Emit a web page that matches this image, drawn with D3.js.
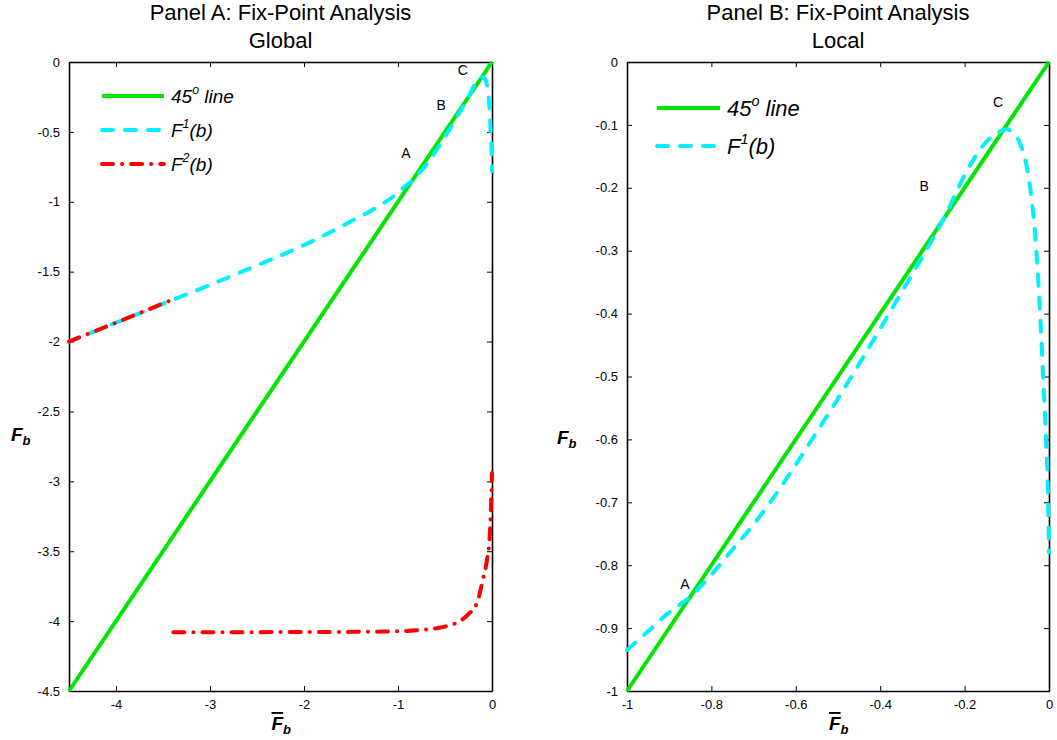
<!DOCTYPE html>
<html>
<head>
<meta charset="utf-8">
<script src="https://cdn.jsdelivr.net/npm/d3@7"></script>
<style>
  body { margin: 0; background: #fff; }
  text { font-family: "Liberation Sans", Arial, sans-serif; fill: #000; }
</style>
</head>
<body>
<svg id="chart" width="1057" height="740"></svg>
<script>
// ---- data ----
// F1(b) for b < -1 (only visible in panel A)
const f1GlobalX = [-4.5, -4.0, -3.5, -3.0, -2.5, -2.0, -1.5, -1.25];
const f1GlobalY = [-2.0, -1.865, -1.73, -1.595, -1.455, -1.31, -1.14, -1.05];
// F1(b) for -1 <= b <= 0 (both panels)
const f1LocalX = [-1, -0.95, -0.9, -0.85, -0.8, -0.75, -0.7, -0.65, -0.6, -0.55, -0.5, -0.45, -0.4,
  -0.35, -0.3, -0.25, -0.2, -0.15, -0.12, -0.1, -0.088, -0.069, -0.053, -0.041, -0.033, -0.029,
  -0.021, -0.014, -0.007, -0.002, 0];
const f1LocalY = [-0.935, -0.905, -0.875, -0.85, -0.815, -0.775, -0.735, -0.69, -0.64, -0.588,
  -0.535, -0.48, -0.424, -0.367, -0.31, -0.25, -0.18, -0.128, -0.112, -0.107, -0.111, -0.129,
  -0.166, -0.219, -0.272, -0.31, -0.4, -0.5, -0.6, -0.7, -0.78];
// F2(b), two pieces
const f2UpperX = [-4.5, -4.0, -3.4];
const f2UpperY = [-2.0, -1.865, -1.70];
const f2LowerX = [-3.39, -3.0, -2.5, -2.0, -1.5, -1.16, -0.8, -0.585, -0.45, -0.34, -0.25, -0.16,
  -0.096, -0.053, -0.025, -0.012, -0.004, 0];
const f2LowerY = [-4.08, -4.08, -4.079, -4.078, -4.077, -4.075, -4.065, -4.05, -4.03, -4.0, -3.95,
  -3.87, -3.7, -3.56, -3.4, -3.2, -3.05, -2.94];

// axes
const ticksAX = [-4, -3, -2, -1, 0];
const ticksAY = [0, -0.5, -1, -1.5, -2, -2.5, -3, -3.5, -4, -4.5];
const ticksBX = [-1, -0.8, -0.6, -0.4, -0.2, 0];
const ticksBY = [0, -0.1, -0.2, -0.3, -0.4, -0.5, -0.6, -0.7, -0.8, -0.9, -1];

// point labels
const pointNames = ['A', 'B', 'C'];
const pointsAX = [-0.915, -0.54, -0.31];
const pointsAY = [-0.69, -0.34, -0.09];
const pointsBX = [-0.863, -0.296, -0.121];
const pointsBY = [-0.838, -0.205, -0.072];

const zip = (xs, ys) => xs.map((v, i) => [v, ys[i]]);

const svg = d3.select('#chart');
const fmt = (d) => String(d);

function drawPanel(cfg) {
  const { left, right, top, bottom } = cfg;
  const x = d3.scaleLinear().domain(cfg.xDomain).range([left, right]);
  const y = d3.scaleLinear().domain(cfg.yDomain).range([bottom, top]);
  const g = svg.append('g');

  // axes (box, ticks pointing in)
  const styleAxis = (sel) => {
    sel.select('.domain').attr('stroke', '#000').attr('stroke-width', 1.6);
    sel.selectAll('.tick line').attr('stroke', '#000').attr('stroke-width', 1);
    sel.selectAll('.tick text').attr('font-size', 13).attr('font-family', '"Liberation Sans", Arial, sans-serif');
  };
  g.append('g').attr('transform', `translate(0,${bottom})`)
    .call(d3.axisBottom(x).tickValues(cfg.xTicks).tickFormat(fmt).tickSizeInner(-5).tickSizeOuter(0).tickPadding(9))
    .call(styleAxis);
  g.append('g').attr('transform', `translate(0,${top})`)
    .call(d3.axisTop(x).tickValues(cfg.xTicks).tickFormat('').tickSizeInner(-5).tickSizeOuter(0))
    .call(styleAxis);
  g.append('g').attr('transform', `translate(${left},0)`)
    .call(d3.axisLeft(y).tickValues(cfg.yTicks).tickFormat(fmt).tickSizeInner(-5).tickSizeOuter(0).tickPadding(9))
    .call(styleAxis);
  g.append('g').attr('transform', `translate(${right},0)`)
    .call(d3.axisRight(y).tickValues(cfg.yTicks).tickFormat('').tickSizeInner(-5).tickSizeOuter(0))
    .call(styleAxis);
  g.selectAll('.domain').attr('fill', 'none');

  const line = d3.line().x((d) => x(d[0])).y((d) => y(d[1]));

  // 45 degree line
  g.append('path').datum(zip(cfg.xDomain, cfg.xDomain))
    .attr('d', line).attr('fill', 'none').attr('stroke', '#00e600').attr('stroke-width', 4);

  // F1
  g.append('path').datum(cfg.f1)
    .attr('d', line.curve(d3.curveMonotoneX)).attr('fill', 'none').attr('stroke', '#00f0ff')
    .attr('stroke-width', 4).attr('stroke-dasharray', '11 12').attr('stroke-linecap', 'round');

  // F2
  (cfg.f2 || []).forEach((seg) => {
    g.append('path').datum(seg)
      .attr('d', line.curve(d3.curveMonotoneX)).attr('fill', 'none').attr('stroke', '#ff0000')
      .attr('stroke-width', 4).attr('stroke-dasharray', '11 9 0.1 9').attr('stroke-linecap', 'round');
  });

  // point labels
  g.selectAll('.pt').data(cfg.points).enter().append('text')
    .attr('x', (d) => x(d[1])).attr('y', (d) => y(d[2]))
    .attr('text-anchor', 'middle').attr('font-size', 14).text((d) => d[0]);

  // titles
  cfg.title.forEach((t, i) => {
    g.append('text').attr('x', (left + right) / 2).attr('y', 20 + i * 28)
      .attr('text-anchor', 'middle').attr('font-size', 22).text(t);
  });

  // legend
  const lg = cfg.legend;
  lg.items.forEach((it, i) => {
    const ly = lg.y + i * lg.step;
    g.append('line').attr('x1', lg.x).attr('x2', lg.x + lg.len).attr('y1', ly).attr('y2', ly)
      .attr('stroke', it.color).attr('stroke-width', 4)
      .attr('stroke-dasharray', it.dash).attr('stroke-linecap', it.dash ? 'round' : 'butt');
    const t = g.append('text').attr('x', lg.x + lg.len + 7).attr('y', ly + lg.size * 0.35)
      .attr('font-size', lg.size).attr('font-style', 'italic');
    t.append('tspan').text(it.base);
    t.append('tspan').attr('font-size', lg.size * 0.65).attr('dy', -lg.size * 0.45).text(it.sup);
    t.append('tspan').attr('dy', lg.size * 0.45).text(it.rest);
  });

  // axis labels
  const serif = '"Liberation Serif", "Times New Roman", serif';
  const yl = g.append('text').attr('x', cfg.yLabelX).attr('y', cfg.yLabelY)
    .attr('font-family', serif).attr('font-weight', 'bold').attr('font-style', 'italic').attr('font-size', 19);
  yl.append('tspan').text('F');
  yl.append('tspan').attr('font-size', 13).attr('dy', 4).text('b');

  const xl = g.append('text').attr('x', (left + right) / 2 - 9).attr('y', 730)
    .attr('font-family', serif).attr('font-weight', 'bold').attr('font-style', 'italic').attr('font-size', 19);
  xl.append('tspan').attr('text-decoration', 'overline').text('F');
  xl.append('tspan').attr('font-size', 13).attr('dy', 4).text('b');
}

const legendItems = [
  { color: '#00e600', dash: null, base: '45', sup: 'o', rest: ' line' },
  { color: '#00f0ff', dash: '11 12', base: 'F', sup: '1', rest: '(b)' },
  { color: '#ff0000', dash: '11 9 0.1 9', base: 'F', sup: '2', rest: '(b)' }
];

drawPanel({
  left: 69, right: 492, top: 62, bottom: 691,
  xDomain: [-4.5, 0], yDomain: [-4.5, 0],
  xTicks: ticksAX, yTicks: ticksAY,
  f1: zip(f1GlobalX.concat(f1LocalX), f1GlobalY.concat(f1LocalY)),
  f2: [zip(f2UpperX, f2UpperY), zip(f2LowerX, f2LowerY)],
  points: pointNames.map((n, i) => [n, pointsAX[i], pointsAY[i]]),
  title: ['Panel A: Fix-Point Analysis', 'Global'],
  legend: { x: 102, y: 96, step: 34, len: 62, size: 19, items: legendItems },
  yLabelX: 11, yLabelY: 441
});

drawPanel({
  left: 627, right: 1049, top: 62, bottom: 691,
  xDomain: [-1, 0], yDomain: [-1, 0],
  xTicks: ticksBX, yTicks: ticksBY,
  f1: zip(f1LocalX, f1LocalY),
  f2: null,
  points: pointNames.map((n, i) => [n, pointsBX[i], pointsBY[i]]),
  title: ['Panel B: Fix-Point Analysis', 'Local'],
  legend: { x: 657, y: 108, step: 38, len: 63, size: 22, items: legendItems.slice(0, 2) },
  yLabelX: 557, yLabelY: 444
});
</script>
</body>
</html>
